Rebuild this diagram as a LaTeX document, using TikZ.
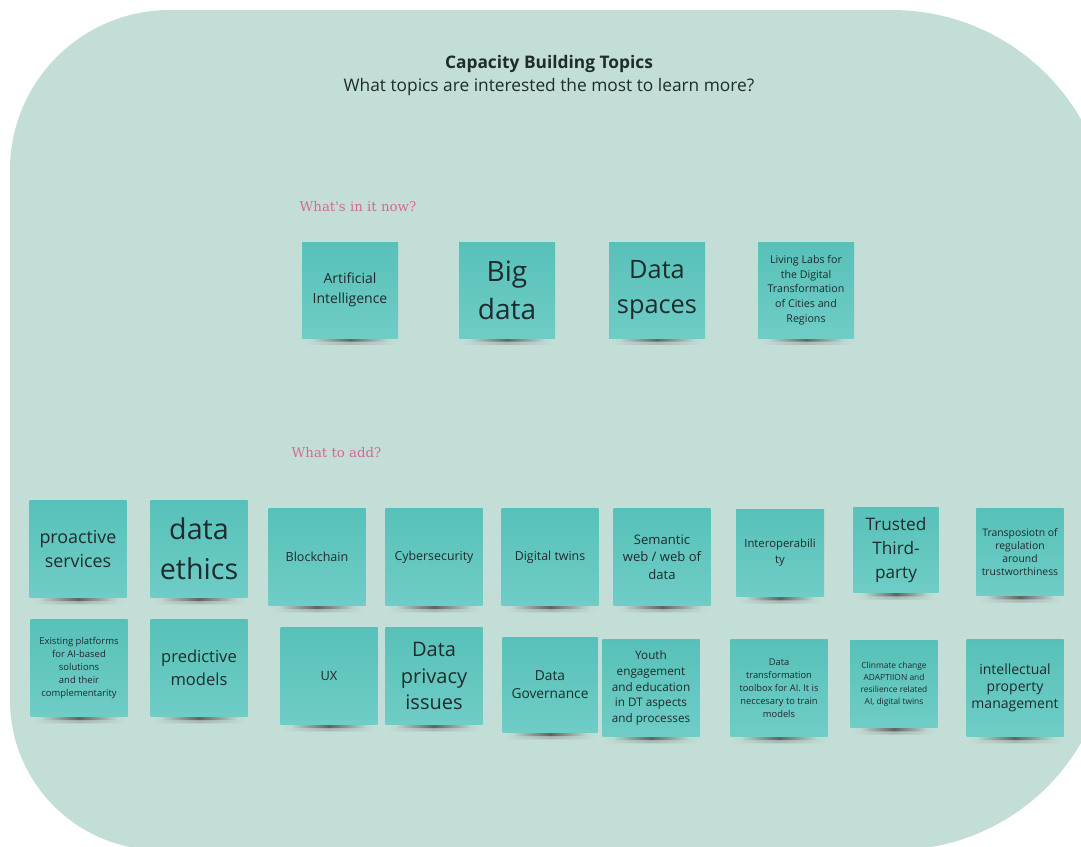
\documentclass[tikz,border=0pt]{standalone}
\usepackage{fontspec}
\setmainfont{Open Sans}
\newfontfamily\slabfont{DejaVu Serif}
\usepackage{xcolor}
\definecolor{boardbg}{HTML}{C3DED7}
\definecolor{notetop}{HTML}{57C1B9}
\definecolor{notebot}{HTML}{6FCDC6}
\definecolor{notetext}{HTML}{1F2B2C}
\definecolor{pinklabel}{HTML}{D06A9B}
\newcommand{\fsz}[2]{\fontsize{#1}{#2}\selectfont}
\pgfdeclarelayer{board}
\pgfdeclarelayer{shade}
\pgfsetlayers{board,shade,main}
\tikzstyle{note} = [rectangle,align=center,inner sep=1pt,top color=notetop,bottom color=notebot,draw=none,text=notetext,minimum width=72.75pt,minimum height=72.75pt]
\tikzstyle{small note} = [note,minimum width=65.5pt,minimum height=65.5pt]
\tikzstyle{pink} = [anchor=west,text=pinklabel,font=\slabfont\fsz{10}{12}]
\tikzstyle{soft shade} = [left color=boardbg,right color=boardbg,middle color=black!45,rounded corners=2pt]
\tikzstyle{core shade} = [left color=boardbg,right color=boardbg,middle color=black!75,rounded corners=1.5pt]

\begin{document}
\begin{tikzpicture}[x=0.75pt,y=-0.75pt]
    \useasboundingbox (0,0) rectangle (1081,846);
    % board
    \begin{pgfonlayer}{board}
    \begin{scope}
    \clip (0,0) rectangle (1081,846);
    \fill[boardbg] (170,10) -- (892,10) arc[start angle=-90,end angle=0,radius=218]
        -- (1110,635) arc[start angle=0,end angle=90,radius=215]
        -- (160,850) arc[start angle=90,end angle=180,radius=150]
        -- (10,170) arc[start angle=180,end angle=270,radius=160] -- cycle;
    \end{scope}
    \end{pgfonlayer}
    % heading
    \node[text=notetext,font=\fsz{13}{15}\bfseries] (title) at (549,64) {Capacity Building Topics};
    \node[text=notetext,font=\fsz{13}{15}] (subtitle) at (549,87) {What topics are interested the most to learn more?};
    % what is in it now
    \node[pink] (nowlabel) at (295,207) {What's in it now?};
    \node[note,minimum width=72pt,minimum height=72pt,font=\fsz{10.5}{15}] (ai) at (350,290) {Artificial\\Intelligence};
    \node[note,minimum width=72pt,minimum height=72pt,font=\fsz{21}{28.5}] (bigdata) at (507,290) {Big\\data};
    \node[note,minimum width=72pt,minimum height=72pt,font=\fsz{19}{26}] (dspaces) at (657,290) {Data\\spaces};
    \node[note,minimum width=72pt,minimum height=72pt,font=\fsz{8}{11}] (livlabs) at (806,290) {Living Labs for\\the Digital\\Transformation\\of Cities and\\Regions};
    % what to add
    \node[pink] (addlabel) at (287,453) {What to add?};
    \node[note,font=\fsz{13.4}{18}] (proact) at (78,549) {proactive\\services};
    \node[note,font=\fsz{21.5}{30}] (ethics) at (199,549) {data\\ethics};
    \node[note,font=\fsz{9.4}{12}] (blockch) at (317,557) {Blockchain};
    \node[note,font=\fsz{9.3}{12}] (cyber) at (434,557) {Cybersecurity};
    \node[note,font=\fsz{9.3}{12}] (dtwins) at (550,557) {Digital twins};
    \node[note,font=\fsz{9.8}{13}] (semweb) at (662,557) {Semantic\\web / web of\\data};
    \node[small note,minimum width=66pt,font=\fsz{8.5}{12}] (interop) at (780,553) {Interoperabili\\ty};
    \node[small note,minimum width=64pt,minimum height=64pt,font=\fsz{12.9}{18}] (trusted) at (896,550) {Trusted\\Third-\\party};
    \node[small note,font=\fsz{7.8}{9.75}] (transp) at (1020,552) {Transposiotn of\\regulation\\around\\trustworthiness};
    \node[note,font=\fsz{7.1}{9.75}] (existing) at (79,668) {Existing platforms\\for AI-based\\solutions\\and their\\complementarity};
    \node[note,font=\fsz{12.4}{17}] (predict) at (199,668) {predictive\\models};
    \node[note,font=\fsz{9.6}{12}] (ux) at (329,676) {UX};
    \node[note,font=\fsz{15}{20}] (privacy) at (434,676) {Data\\privacy\\issues};
    \node[note,minimum width=71.25pt,minimum height=71.25pt,font=\fsz{10.3}{13.5}] (datagov) at (550,685) {Data\\Governance};
    \node[note,font=\fsz{8.8}{11.8}] (youth) at (651,688) {Youth\\engagement\\and education\\in DT aspects\\and processes};
    \node[note,font=\fsz{7}{9.75}] (dtrans) at (779,688) {Data\\transformation\\toolbox for AI. It is\\neccesary to train\\models};
    \node[small note,font=\fsz{6.3}{9}] (climate) at (894,684) {Clinmate change\\ADAPTIION and\\resilience related\\AI, digital twins};
    \node[note,font=\fsz{10.5}{13}] (ipm) at (1015,688) {intellectual\\property\\management};
    % shadows under the notes
    \begin{pgfonlayer}{shade}
    \foreach \n in {ai,bigdata,dspaces,livlabs,proact,ethics,blockch,cyber,dtwins,semweb,interop,trusted,transp,existing,predict,ux,privacy,datagov,youth,dtrans,climate,ipm}{
        \shade[soft shade,opacity=.45] ([xshift=2pt,yshift=1pt]\n.south west) rectangle ([xshift=-2pt,yshift=-5pt]\n.south east);
        \shade[core shade,opacity=.7] ([xshift=7pt,yshift=1pt]\n.south west) rectangle ([xshift=-7pt,yshift=-2.6pt]\n.south east);
    }
    \end{pgfonlayer}
\end{tikzpicture}
\end{document}
